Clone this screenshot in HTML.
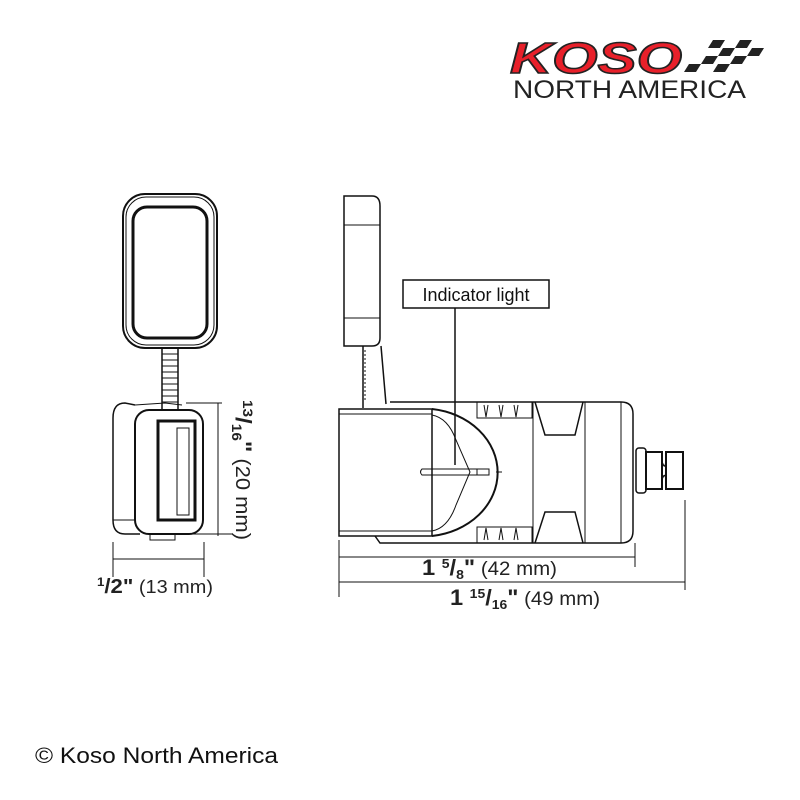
<!DOCTYPE html>
<html><head><style>
body{margin:0;background:#fff}
svg{display:block}
text{font-family:"Liberation Sans",sans-serif}
</style></head><body>
<svg width="800" height="800" viewBox="0 0 800 800" xmlns="http://www.w3.org/2000/svg">
<!-- Logo -->
<text x="510" y="73" font-size="44" font-weight="900" font-style="italic" fill="#e8202a" stroke="#222" stroke-width="1.5" textLength="172" lengthAdjust="spacingAndGlyphs">KOSO</text>
<g fill="#222">
<polygon points="684,72 696,72 701,64 689,64"/>
<polygon points="701,64 713,64 718,56 706,56"/>
<polygon points="718,56 730,56 735,48 723,48"/>
<polygon points="735,48 747,48 752,40 740,40"/>
<polygon points="713,72 725,72 730,64 718,64"/>
<polygon points="730,64 742,64 747,56 735,56"/>
<polygon points="747,56 759,56 764,48 752,48"/>
<polygon points="689,48 701,48 706,40 694,40" opacity="0"/>
<polygon points="708,48 720,48 725,40 713,40"/>
<polygon points="752,40 764,40 768,34 756,34" opacity="0"/>
</g>
<text x="513" y="98" font-size="25" fill="#222" textLength="233" lengthAdjust="spacingAndGlyphs">NORTH AMERICA</text>

<g fill="none" stroke="#111" stroke-width="1.5">
<!-- Front view -->
<rect x="123" y="194" width="94" height="154" rx="22" stroke-width="2"/>
<rect x="126" y="197" width="88" height="148" rx="20" stroke-width="1"/>
<rect x="133" y="207" width="74" height="131" rx="14" stroke-width="3"/>
<rect x="162" y="348" width="16" height="62"/>
<path d="M162 354h16M162 360h16M162 366h16M162 372h16M162 378h16M162 384h16M162 390h16M162 396h16M162 402h16" stroke-width="1"/>
<path d="M135 405 L125 403 Q113 403 113 418 L113 520 Q113 534 125 534 L140 534"/>
<path d="M135 405 L165 403 L182 405" stroke-width="1"/>
<path d="M113 520 L135 520" stroke-width="1"/>
<rect x="135" y="410" width="68" height="124" rx="14" stroke-width="2"/>
<rect x="158" y="421" width="37" height="99" stroke-width="3"/>
<rect x="177" y="428" width="12" height="87" stroke-width="1"/>
<path d="M150 534 L150 540 L175 540 L175 534" stroke-width="1"/>
<path d="M218 403 V536 M186 403 H222 M176 534 H232" stroke-width="1"/>
<path d="M113 542 V577 M204 542 V577 M113 559 H204" stroke-width="1"/>

<!-- Side view -->
<path d="M344 196 H372 Q380 196 380 206 V338 Q380 346 372 346 H344 Z"/>
<path d="M344 225 H380 M344 318 H380" stroke-width="1"/>
<path d="M363 346 V408 M381 346 L386 404" />
<path d="M365 350 v50" stroke-width="1" stroke-dasharray="2,2"/>
<path d="M390 402 H621 Q633 402 633 414 V531 Q633 543 621 543 H380 L375 536"/>
<rect x="339" y="409" width="93" height="127"/>
<path d="M339 414 H432 M339 531 H432" stroke-width="1"/>
<path d="M432 409 A75 64 0 0 1 432 536" stroke-width="2"/>
<path d="M432 415 Q448 418 456 440 L470 472 L456 505 Q448 528 432 531" stroke-width="1"/>
<path d="M422 469 H489 V475 H422 Q419 472 422 469 Z" stroke-width="1"/>
<path d="M477 469 V475 M496 472 H502" stroke-width="1"/>
<path d="M455 308 V465" stroke-width="1.5"/>
<path d="M477 402 V418 H532 V402 M484 405 l2 12 l2 -12 M499 405 l2 12 l2 -12 M514 405 l2 12 l2 -12" stroke-width="1"/>
<path d="M477 543 V527 H532 V543 M484 540 l2 -12 l2 12 M499 540 l2 -12 l2 12 M514 540 l2 -12 l2 12" stroke-width="1"/>
<path d="M535 402 L545 435 H575 L583 402" />
<path d="M535 543 L545 512 H575 L583 543" />
<path d="M533 402 V543 M585 402 V543 M621 402 V543" stroke-width="1"/>
<rect x="636" y="448" width="10" height="45" rx="3"/>
<rect x="646" y="452" width="16" height="37" stroke-width="2"/>
<rect x="666" y="452" width="17" height="37" stroke-width="2"/>
<path d="M662 462 Q665 470 666 462 M662 479 Q665 472 666 479" stroke-width="1.5"/>
<path d="M339 540 V597 M635 543 V567 M339 557 H635 M685 500 V590 M339 582 H685" stroke-width="1"/>
</g>
<rect x="403" y="280" width="146" height="28" fill="#fff" stroke="#111" stroke-width="1.5"/>
<text x="476" y="301" font-size="18" text-anchor="middle" fill="#111">Indicator light</text>

<text x="422" y="575" font-size="19" fill="#222" textLength="135" lengthAdjust="spacingAndGlyphs"><tspan font-weight="bold" font-size="22">1 </tspan><tspan font-weight="bold" font-size="13" dy="-7">5</tspan><tspan font-weight="bold" font-size="22" dy="7">/</tspan><tspan font-weight="bold" font-size="13" dy="4">8</tspan><tspan font-weight="bold" font-size="22" dy="-4">"</tspan> (42 mm)</text>
<text x="450" y="605" font-size="19" fill="#222" textLength="150" lengthAdjust="spacingAndGlyphs"><tspan font-weight="bold" font-size="22">1 </tspan><tspan font-weight="bold" font-size="13" dy="-7">15</tspan><tspan font-weight="bold" font-size="22" dy="7">/</tspan><tspan font-weight="bold" font-size="13" dy="4">16</tspan><tspan font-weight="bold" font-size="22" dy="-4">"</tspan> (49 mm)</text>
<text x="97" y="593" font-size="18" fill="#222" textLength="116" lengthAdjust="spacingAndGlyphs"><tspan font-weight="bold" font-size="12" dy="-7">1</tspan><tspan font-weight="bold" font-size="20" dy="7">/2"</tspan> (13 mm)</text>
<text transform="translate(236,400) rotate(90)" font-size="20" fill="#222" textLength="140" lengthAdjust="spacingAndGlyphs"><tspan font-weight="bold" font-size="14" dy="-7">13</tspan><tspan font-weight="bold" font-size="22" dy="7">/</tspan><tspan font-weight="bold" font-size="14" dy="4">16</tspan><tspan font-weight="bold" font-size="22" dy="-4">"</tspan> (20 mm)</text>

<text x="35" y="763" font-size="22" fill="#111" textLength="243" lengthAdjust="spacingAndGlyphs">© Koso North America</text>
</svg>
</body></html>
